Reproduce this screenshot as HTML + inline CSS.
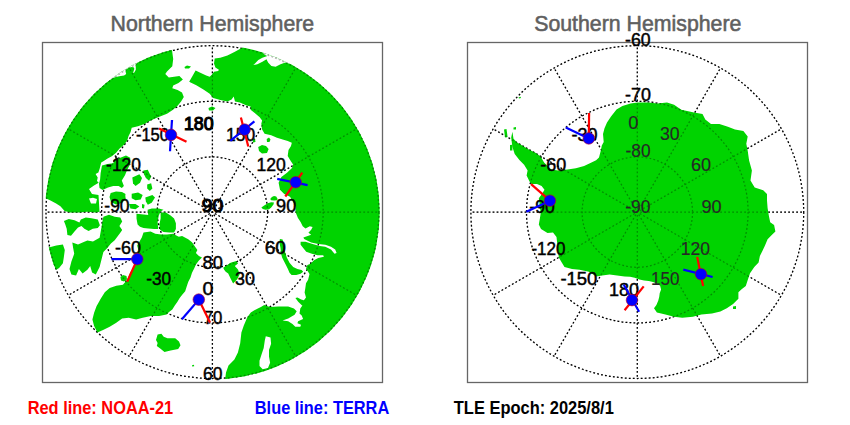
<!DOCTYPE html>
<html><head><meta charset="utf-8"><style>
html,body{margin:0;padding:0;background:#fff;width:850px;height:425px;overflow:hidden}
svg{display:block}
text{font-family:"Liberation Sans",sans-serif}
.g{fill:none;stroke:#000;stroke-width:1.25;stroke-dasharray:1.8 2.2}
line.g{stroke-dashoffset:1.1}
.rl{stroke:#f00;stroke-width:2.2}
.bl{stroke:#00f;stroke-width:2.2}
.dot{fill:#00f;stroke:#c00020;stroke-width:0.6}
.lab text{font-size:17.5px;fill:#000;stroke:#000;stroke-width:0.45}
.lab text.heavy{stroke-width:1.1}
.lab text.thin{fill:#262626;stroke:#262626;stroke-width:0.15}
</style></head><body>
<svg width="850" height="425" viewBox="0 0 850 425">
<defs>
<clipPath id="cn"><circle cx="212.4" cy="212.1" r="167.3"/></clipPath>
<clipPath id="cs"><circle cx="637.3" cy="212.1" r="167.3"/></clipPath>
</defs>
<text x="110.6" y="30.8" font-size="22" fill="#606060" stroke="#606060" stroke-width="0.55" textLength="203.6" lengthAdjust="spacingAndGlyphs">Northern Hemisphere</text>
<text x="534.2" y="30.8" font-size="22" fill="#606060" stroke="#606060" stroke-width="0.55" textLength="207.2" lengthAdjust="spacingAndGlyphs">Southern Hemisphere</text>
<g id="gridunder">
<circle cx="212.4" cy="212.1" r="55.2" class="g"/>
<circle cx="212.4" cy="212.1" r="110.8" class="g"/>
<circle cx="212.4" cy="212.1" r="166.4" class="g"/>
<line x1="212.4" y1="212.1" x2="212.40" y2="378.50" class="g"/>
<line x1="212.4" y1="212.1" x2="295.60" y2="356.21" class="g"/>
<line x1="212.4" y1="212.1" x2="356.51" y2="295.30" class="g"/>
<line x1="212.4" y1="212.1" x2="378.80" y2="212.10" class="g"/>
<line x1="212.4" y1="212.1" x2="356.51" y2="128.90" class="g"/>
<line x1="212.4" y1="212.1" x2="295.60" y2="67.99" class="g"/>
<line x1="212.4" y1="212.1" x2="212.40" y2="45.70" class="g"/>
<line x1="212.4" y1="212.1" x2="129.20" y2="67.99" class="g"/>
<line x1="212.4" y1="212.1" x2="68.29" y2="128.90" class="g"/>
<line x1="212.4" y1="212.1" x2="46.00" y2="212.10" class="g"/>
<line x1="212.4" y1="212.1" x2="68.29" y2="295.30" class="g"/>
<line x1="212.4" y1="212.1" x2="129.20" y2="356.21" class="g"/>
<circle cx="637.3" cy="212.1" r="55.2" class="g"/>
<circle cx="637.3" cy="212.1" r="110.8" class="g"/>
<circle cx="637.3" cy="212.1" r="166.4" class="g"/>
<line x1="637.3" y1="212.1" x2="637.30" y2="45.70" class="g"/>
<line x1="637.3" y1="212.1" x2="720.50" y2="67.99" class="g"/>
<line x1="637.3" y1="212.1" x2="781.41" y2="128.90" class="g"/>
<line x1="637.3" y1="212.1" x2="803.70" y2="212.10" class="g"/>
<line x1="637.3" y1="212.1" x2="781.41" y2="295.30" class="g"/>
<line x1="637.3" y1="212.1" x2="720.50" y2="356.21" class="g"/>
<line x1="637.3" y1="212.1" x2="637.30" y2="378.50" class="g"/>
<line x1="637.3" y1="212.1" x2="554.10" y2="356.21" class="g"/>
<line x1="637.3" y1="212.1" x2="493.19" y2="295.30" class="g"/>
<line x1="637.3" y1="212.1" x2="470.90" y2="212.10" class="g"/>
<line x1="637.3" y1="212.1" x2="493.19" y2="128.90" class="g"/>
<line x1="637.3" y1="212.1" x2="554.10" y2="67.99" class="g"/>
</g>
<g clip-path="url(#cn)" fill="#00d300">
<path d="M172.0,20.0 L172.0,50.0 L173.2,59.1 L172.3,66.2 L167.0,71.5 L165.3,74.1 L168.8,77.6 L174.1,76.7 L179.4,75.9 L182.9,79.4 L178.5,82.9 L173.2,85.6 L172.3,88.2 L177.6,90.0 L182.0,92.6 L183.8,97.0 L181.1,101.4 L177.6,105.8 L172.3,110.3 L167.0,113.8 L160.0,116.4 L153.9,119.1 L148.6,121.5 L144.4,124.1 L138.0,126.3 L131.7,127.8 L130.6,132.0 L128.5,136.3 L127.4,140.0 L124.5,144.2 L119.6,148.5 L116.1,152.7 L111.8,156.2 L107.6,158.4 L103.4,161.2 L101.2,162.6 L99.8,168.2 L98.4,172.5 L95.6,173.9 L97.7,177.4 L97.0,181.0 L98.7,182.8 L94.0,185.6 L89.0,189.0 L92.0,194.0 L98.5,195.0 L99.0,203.0 L99.5,211.8 L95.7,212.5 L87.2,211.8 L78.7,212.5 L70.2,212.5 L64.6,211.1 L60.4,206.2 L56.1,203.4 L50.5,200.5 L46.2,198.4 L20.0,197.0 L20.0,20.0 Z"/>
<path d="M243.0,20.0 L243.0,47.0 L240.8,48.5 L234.4,52.0 L227.4,55.6 L220.3,57.7 L214.7,58.4 L214.0,63.4 L215.4,67.6 L218.9,69.7 L218.2,71.1 L214.0,71.8 L211.8,74.7 L209.7,76.8 L206.2,75.4 L199.8,72.5 L195.6,70.4 L189.2,81.7 L190.6,82.4 L196.3,85.2 L203.4,89.5 L209.7,93.7 L213.2,98.0 L220.3,100.0 L227.4,101.5 L231.6,99.4 L233.7,96.5 L235.0,101.5 L239.9,102.4 L246.5,105.6 L250.6,106.5 L250.6,109.8 L254.7,113.0 L259.7,117.2 L262.1,120.5 L261.3,123.8 L262.1,129.5 L264.6,133.7 L271.2,135.3 L277.0,137.8 L282.7,139.4 L287.7,141.1 L291.8,142.7 L291.0,146.0 L288.5,150.1 L287.7,155.9 L290.1,160.0 L293.2,164.8 L292.0,168.0 L287.0,172.8 L281.4,177.0 L278.6,182.7 L280.0,189.8 L284.2,194.0 L290.0,196.8 L292.7,201.0 L295.5,206.7 L295.5,212.0 L297.8,217.8 L300.6,222.0 L302.7,226.3 L305.5,228.4 L309.8,226.3 L312.6,227.0 L311.2,229.8 L308.4,232.7 L311.2,234.8 L307.0,236.2 L303.4,237.6 L304.1,239.0 L311.2,242.5 L318.2,244.0 L325.3,244.7 L331.0,246.8 L335.2,249.6 L336.6,253.1 L334.5,253.8 L331.0,249.6 L325.3,246.8 L319.7,246.0 L312.6,244.0 L305.5,241.8 L300.6,241.8 L300.6,244.7 L303.4,248.2 L306.2,251.7 L311.9,253.8 L317.5,255.3 L323.2,255.3 L323.9,256.7 L318.2,258.1 L314.0,260.2 L310.5,263.7 L307.4,264.9 L306.0,268.5 L309.5,274.1 L308.1,279.8 L306.0,283.3 L305.3,288.2 L304.6,292.5 L306.0,297.4 L303.9,300.3 L301.1,299.5 L297.5,297.4 L295.4,298.1 L298.2,301.7 L301.8,305.2 L302.4,305.6 L300.3,308.5 L299.5,313.4 L301.7,315.5 L303.1,319.1 L298.1,321.2 L297.4,323.3 L301.0,324.7 L300.3,326.8 L295.3,326.8 L292.5,324.0 L288.2,321.2 L282.6,320.5 L288.2,318.4 L294.6,314.8 L296.7,311.3 L293.9,308.5 L288.2,306.4 L278.4,306.4 L269.9,307.1 L264.2,305.0 L261.4,306.7 L254.4,310.2 L250.8,312.6 L247.3,317.3 L243.8,325.5 L241.4,332.6 L240.2,343.2 L237.9,352.6 L234.4,359.6 L228.5,365.5 L226.0,372.6 L220.0,420.0 L420.0,420.0 L420.0,20.0 Z"/>
<path d="M141.8,237.4 L143.5,232.6 L150.6,231.5 L155.3,233.8 L161.2,234.4 L167.0,234.4 L172.9,233.8 L178.8,236.8 L182.1,236.1 L188.2,239.2 L192.0,242.2 L195.1,246.8 L197.4,249.9 L195.9,252.9 L198.9,256.0 L202.0,257.5 L198.9,260.6 L195.9,264.4 L194.3,268.2 L192.0,272.8 L190.5,277.4 L188.2,282.0 L186.7,286.6 L185.2,291.2 L182.2,294.7 L179.7,298.0 L177.3,302.1 L174.8,305.4 L172.3,309.5 L169.0,312.0 L166.5,314.5 L159.1,316.1 L150.9,316.1 L142.7,317.8 L136.1,319.4 L128.7,317.8 L122.1,318.6 L116.3,322.7 L109.7,326.8 L103.1,330.1 L97.4,332.6 L94.1,326.0 L92.4,319.4 L94.1,312.8 L96.5,306.2 L100.7,298.8 L104.8,292.2 L109.7,288.1 L116.3,285.7 L122.9,284.8 L127.0,279.9 L130.0,273.0 L133.0,268.0 L136.6,260.2 L138.6,251.0 L137.2,245.4 Z"/>
<path d="M136.5,213.8 L143.5,214.4 L148.2,215.0 L147.6,209.7 L151.8,208.5 L158.8,208.5 L163.5,209.7 L160.6,211.5 L158.8,215.6 L157.6,222.0 L158.2,229.1 L154.1,229.1 L148.2,228.5 L143.5,227.9 L140.0,226.8 L137.6,224.4 L136.5,218.5 Z"/>
<path d="M160.6,212.6 L165.9,212.6 L170.6,215.6 L174.1,218.5 L175.9,223.2 L175.9,229.1 L174.1,232.6 L169.4,232.6 L163.5,232.1 L160.0,229.7 L159.4,224.4 L160.6,218.5 Z"/>
<path d="M102.0,165.4 L107.6,164.0 L113.2,163.3 L114.7,159.8 L120.3,157.7 L126.0,155.5 L130.2,157.7 L130.2,164.0 L127.1,170.0 L125.0,175.3 L121.8,180.6 L123.9,185.9 L121.8,188.0 L118.6,185.9 L113.3,185.9 L108.0,187.5 L102.7,190.1 L99.5,188.0 L99.0,183.8 L100.1,179.5 L100.6,173.2 Z"/>
<path d="M157.6,334.5 L161.4,333.8 L163.7,336.8 L167.5,338.3 L175.2,338.3 L179.0,341.4 L180.5,345.2 L178.2,349.0 L170.6,350.6 L164.5,352.1 L159.9,348.3 L156.8,346.0 L157.6,342.9 L156.0,339.9 Z"/>
<path d="M223.2,267.7 L230.6,262.8 L236.4,261.1 L238.0,263.6 L234.8,266.1 L238.0,269.4 L239.7,274.3 L237.2,279.3 L233.1,283.4 L230.6,278.4 L228.2,273.5 L225.7,271.8 L224.0,269.4 Z"/>
<path d="M279.9,238.9 L282.6,239.4 L283.6,243.6 L284.7,251.0 L286.8,257.4 L289.5,262.7 L293.2,266.9 L297.4,269.0 L301.6,270.1 L303.2,271.7 L300.6,273.8 L296.3,274.9 L291.6,274.9 L289.5,272.7 L287.9,269.0 L285.8,264.8 L283.6,260.6 L282.1,257.4 L281.0,253.2 L280.5,247.9 L279.4,242.6 Z"/>
<path d="M208.5,108.0 L212.0,106.5 L215.5,108.0 L213.0,110.5 L209.0,110.5 Z"/>
<path d="M184.5,67.0 L187.0,65.5 L191.0,66.5 L189.0,68.5 L185.0,68.5 Z"/>
<path d="M252.5,139.5 L255.0,139.0 L255.5,142.0 L253.0,142.5 Z"/>
<path d="M258.2,147.0 L262.0,144.9 L266.0,146.0 L268.6,149.0 L267.0,153.0 L262.0,153.4 L259.0,151.0 Z"/>
<path d="M266.7,139.0 L269.0,137.4 L270.5,139.5 L269.5,142.0 L267.0,142.0 Z"/>
<path d="M72.3,242.5 L78.0,244.4 L82.6,242.5 L87.4,240.6 L93.0,241.6 L99.6,237.8 L101.5,227.1 L102.4,221.4 L103.4,216.7 L109.0,214.8 L114.7,216.7 L120.3,217.6 L122.2,221.4 L119.4,226.1 L122.2,229.9 L120.3,232.7 L117.5,236.5 L114.7,240.2 L110.9,243.5 L107.1,248.2 L103.4,252.0 L101.5,259.5 L99.6,267.0 L95.8,274.5 L92.1,272.6 L90.2,266.1 L87.4,269.8 L82.6,273.6 L78.9,268.9 L76.1,275.5 L71.4,274.5 L69.5,268.9 L71.4,261.4 L74.2,253.8 L73.2,248.2 Z"/>
<path d="M63.9,221.0 L68.8,218.9 L74.5,220.3 L79.4,222.4 L80.8,219.6 L85.8,217.5 L91.4,218.2 L97.8,219.6 L99.9,225.3 L97.8,228.1 L92.8,228.8 L88.6,230.9 L84.4,228.8 L81.5,226.0 L78.0,227.4 L74.5,231.6 L71.0,235.8 L67.4,235.1 L66.7,228.8 L65.3,224.5 Z"/>
<path d="M40.0,240.0 L49.7,247.2 L56.3,245.4 L62.9,244.4 L64.8,250.0 L63.8,257.6 L62.9,263.2 L59.1,268.0 L56.3,269.8 L53.5,265.1 L45.0,262.0 Z"/>
<path d="M110.7,193.0 L116.0,191.5 L122.0,192.0 L125.5,194.0 L125.0,199.0 L122.0,203.0 L116.0,204.5 L111.0,202.0 L109.5,197.0 Z"/>
<path d="M0.0,0.0 L0.0,0.0 L0.0,0.0 Z"/>
<path d="M0.0,0.0 L0.0,0.0 L0.0,0.0 Z"/>
<path d="M0.0,0.0 L0.0,0.0 L0.0,0.0 Z"/>
<path d="M0.0,0.0 L0.0,0.0 L0.0,0.0 Z"/>
<path d="M0.0,0.0 L0.0,0.0 L0.0,0.0 Z"/>
<path d="M0.0,0.0 L0.0,0.0 L0.0,0.0 Z"/>
<path d="M261.4,207.6 L264.2,205.5 L267.7,203.3 L271.2,202.3 L274.0,202.6 L273.3,204.8 L271.2,207.6 L269.1,209.3 L265.6,209.7 L262.8,209.0 Z"/>
<path d="M270.2,199.1 L271.9,197.0 L274.0,195.9 L276.2,196.6 L277.6,199.1 L277.2,200.2 L274.0,200.5 L271.2,200.2 Z"/>
<path d="M192.0,365.2 L194.0,364.8 L194.2,366.2 L192.2,366.5 Z"/>
<path d="M120.4,277.0 L123.0,275.0 L126.5,276.0 L127.0,279.5 L124.0,281.5 L121.0,280.5 Z"/>
<path d="M132.3,177.5 L139.4,174.2 L142.0,178.1 L140.1,182.7 L135.5,185.9 L133.0,183.3 Z"/>
<path d="M143.3,170.4 L147.8,169.7 L151.1,176.8 L149.1,180.7 L145.9,178.1 L144.0,174.2 Z"/>
<path d="M147.2,184.6 L151.1,183.3 L152.4,188.5 L149.8,191.1 L147.2,188.5 Z"/>
<path d="M131.7,193.7 L138.1,192.4 L142.7,195.0 L140.7,199.5 L135.5,200.2 L131.7,198.2 Z"/>
<path d="M145.3,197.6 L152.4,195.0 L155.0,197.6 L151.7,202.7 L147.8,204.7 L145.9,201.5 Z"/>
<path d="M129.1,204.0 L135.5,204.0 L139.4,206.6 L135.5,209.2 L130.4,208.6 Z"/>
<path d="M142.0,204.0 L144.6,204.7 L144.0,208.6 L142.0,207.9 Z"/>
<path d="M119.0,192.4 L124.5,193.7 L125.8,198.9 L122.6,201.5 L119.0,200.0 Z"/>
<g fill="#fff"><path d="M265.8,336.3 L270.5,337.4 L271.1,343.7 L269.0,350.1 L269.0,356.4 L270.1,362.8 L268.0,368.1 L262.7,369.2 L259.5,366.0 L259.5,360.7 L261.6,354.3 L263.7,348.0 L264.8,340.6 Z"/>
<path d="M105.0,70.0 L111.4,79.0 L114.2,77.6 L119.2,76.2 L124.1,75.5 L126.2,74.0 L125.5,71.2 L126.6,69.1 L129.0,67.7 L131.9,67.0 L134.0,67.4 L134.3,69.1 L133.3,71.9 L132.6,73.0 L134.3,72.6 L135.8,69.8 L135.8,67.0 L135.4,64.9 L136.8,63.8 L137.0,55.0 L105.0,55.0 Z"/>
<path d="M89.0,198.5 L93.0,197.7 L97.0,199.0 L96.0,203.4 L91.0,203.5 Z"/>
<path d="M262.0,50.0 L264.0,54.4 L267.3,56.0 L262.4,57.7 L258.3,60.1 L255.0,63.4 L253.3,65.1 L257.4,64.2 L262.4,61.8 L266.5,59.3 L268.1,62.6 L271.4,65.9 L275.6,66.7 L280.5,64.2 L285.4,62.6 L288.7,63.4 L293.0,58.0 L275.0,45.0 Z"/></g>
</g>
<g clip-path="url(#cs)" fill="#00d300">
<path d="M512.4,131.8 L513.5,138.8 L517.1,142.4 L522.9,145.9 L528.8,149.4 L535.9,152.9 L540.6,156.5 L544.1,162.4 L551.2,169.4 L558.2,170.6 L567.6,169.4 L575.9,168.2 L584.1,165.9 L589.4,163.5 L596.1,160.2 L599.0,157.4 L599.9,154.1 L600.9,150.3 L601.8,145.6 L603.7,141.9 L603.0,134.1 L604.5,128.2 L607.0,122.4 L611.0,116.5 L616.5,109.4 L622.4,105.9 L630.6,103.5 L637.6,102.4 L648.2,102.4 L657.6,103.5 L667.0,102.4 L674.1,104.7 L681.3,109.8 L694.0,112.6 L702.5,114.0 L705.3,119.6 L711.0,123.9 L719.4,123.9 L727.9,126.7 L735.0,129.5 L743.4,131.0 L747.7,136.6 L746.3,143.7 L747.7,150.7 L749.1,160.6 L751.9,170.5 L750.5,180.4 L754.7,187.5 L763.2,190.3 L767.0,194.0 L767.0,200.4 L767.6,208.1 L768.9,215.9 L770.2,222.3 L774.1,224.9 L775.4,231.4 L771.5,235.3 L767.6,239.2 L765.0,245.6 L762.5,250.8 L759.9,256.0 L758.6,262.5 L754.3,266.9 L750.0,273.3 L747.9,279.6 L745.8,286.0 L741.6,289.2 L738.4,292.3 L738.4,298.7 L733.1,304.0 L726.8,308.2 L720.4,311.4 L712.0,313.5 L701.4,314.6 L692.9,316.7 L682.3,317.7 L673.9,316.7 L665.4,314.6 L656.9,312.4 L654.0,308.2 L656.4,305.0 L658.2,300.8 L659.2,297.0 L659.7,293.2 L661.1,289.5 L660.1,285.7 L657.3,283.8 L653.0,282.0 L648.8,281.0 L644.1,280.5 L639.4,279.6 L634.7,277.7 L630.0,276.8 L624.6,276.4 L617.1,275.5 L609.6,274.5 L602.1,275.5 L596.4,276.4 L588.9,271.7 L579.5,269.8 L572.0,268.9 L564.5,267.0 L561.6,262.3 L558.8,257.6 L557.9,250.1 L556.5,237.0 L553.0,232.5 L547.5,233.0 L541.0,229.0 L538.8,224.6 L539.8,219.0 L540.7,213.3 L539.8,205.8 L538.8,198.2 L541.6,194.5 L544.5,189.8 L541.6,186.0 L537.0,184.1 L531.3,184.1 L529.4,181.3 L526.6,175.6 L527.6,170.6 L524.1,164.7 L519.4,160.0 L514.7,154.1 L512.4,147.0 L511.2,137.6 Z"/>
<path d="M504.0,129.5 L506.5,129.0 L507.6,137.0 L505.0,137.6 Z"/>
<path d="M513.5,127.5 L516.0,127.0 L516.0,129.4 L513.5,129.4 Z"/>
<path d="M510.0,145.0 L512.4,144.7 L512.4,150.6 L510.0,150.6 Z"/>
<path d="M733.0,306.5 L736.0,306.0 L736.0,309.0 L733.0,309.0 Z"/>
<path d="M518.5,97.5 L520.5,96.8 L521.0,98.0 L519.0,98.6 Z"/>
<g fill="#fff"></g>
</g>
<rect x="42.5" y="42.5" width="340" height="340" fill="none" stroke="#666" stroke-width="1.3"/>
<rect x="467.5" y="42.5" width="340" height="340" fill="none" stroke="#666" stroke-width="1.3"/>
<g opacity="0.32">
<circle cx="212.4" cy="212.1" r="55.2" class="g"/>
<circle cx="212.4" cy="212.1" r="110.8" class="g"/>
<circle cx="212.4" cy="212.1" r="166.4" class="g"/>
<line x1="212.4" y1="212.1" x2="212.40" y2="378.50" class="g"/>
<line x1="212.4" y1="212.1" x2="295.60" y2="356.21" class="g"/>
<line x1="212.4" y1="212.1" x2="356.51" y2="295.30" class="g"/>
<line x1="212.4" y1="212.1" x2="378.80" y2="212.10" class="g"/>
<line x1="212.4" y1="212.1" x2="356.51" y2="128.90" class="g"/>
<line x1="212.4" y1="212.1" x2="295.60" y2="67.99" class="g"/>
<line x1="212.4" y1="212.1" x2="212.40" y2="45.70" class="g"/>
<line x1="212.4" y1="212.1" x2="129.20" y2="67.99" class="g"/>
<line x1="212.4" y1="212.1" x2="68.29" y2="128.90" class="g"/>
<line x1="212.4" y1="212.1" x2="46.00" y2="212.10" class="g"/>
<line x1="212.4" y1="212.1" x2="68.29" y2="295.30" class="g"/>
<line x1="212.4" y1="212.1" x2="129.20" y2="356.21" class="g"/>
<circle cx="637.3" cy="212.1" r="55.2" class="g"/>
<circle cx="637.3" cy="212.1" r="110.8" class="g"/>
<circle cx="637.3" cy="212.1" r="166.4" class="g"/>
<line x1="637.3" y1="212.1" x2="637.30" y2="45.70" class="g"/>
<line x1="637.3" y1="212.1" x2="720.50" y2="67.99" class="g"/>
<line x1="637.3" y1="212.1" x2="781.41" y2="128.90" class="g"/>
<line x1="637.3" y1="212.1" x2="803.70" y2="212.10" class="g"/>
<line x1="637.3" y1="212.1" x2="781.41" y2="295.30" class="g"/>
<line x1="637.3" y1="212.1" x2="720.50" y2="356.21" class="g"/>
<line x1="637.3" y1="212.1" x2="637.30" y2="378.50" class="g"/>
<line x1="637.3" y1="212.1" x2="554.10" y2="356.21" class="g"/>
<line x1="637.3" y1="212.1" x2="493.19" y2="295.30" class="g"/>
<line x1="637.3" y1="212.1" x2="470.90" y2="212.10" class="g"/>
<line x1="637.3" y1="212.1" x2="493.19" y2="128.90" class="g"/>
<line x1="637.3" y1="212.1" x2="554.10" y2="67.99" class="g"/>
</g>
<g class="lab">
<text class="heavy" x="184.0" y="129.7" textLength="29.6" lengthAdjust="spacingAndGlyphs">180</text>
<text x="135.9" y="140.6" textLength="33.1" lengthAdjust="spacingAndGlyphs">-150</text>
<text x="226.0" y="140.6" textLength="29.1" lengthAdjust="spacingAndGlyphs">150</text>
<text x="106.1" y="170.6" textLength="34.9" lengthAdjust="spacingAndGlyphs">-120</text>
<text x="256.4" y="170.6" textLength="29.3" lengthAdjust="spacingAndGlyphs">120</text>
<text x="104.3" y="212.2" textLength="25.3" lengthAdjust="spacingAndGlyphs">-90</text>
<text class="heavy" x="201.8" y="211.8" textLength="21.5" lengthAdjust="spacingAndGlyphs">90</text>
<text x="276.1" y="211.8" textLength="20.2" lengthAdjust="spacingAndGlyphs">90</text>
<text x="115.0" y="254.3" textLength="26.0" lengthAdjust="spacingAndGlyphs">-60</text>
<text x="264.7" y="254.4" textLength="21.3" lengthAdjust="spacingAndGlyphs">60</text>
<text x="146.2" y="284.9" textLength="24.9" lengthAdjust="spacingAndGlyphs">-30</text>
<text x="235.0" y="284.9" textLength="19.9" lengthAdjust="spacingAndGlyphs">30</text>
<text x="202.6" y="268.5" textLength="20.3" lengthAdjust="spacingAndGlyphs">80</text>
<text x="202.4" y="294.8" textLength="10.9" lengthAdjust="spacingAndGlyphs">0</text>
<text x="203.8" y="323.9" textLength="18.6" lengthAdjust="spacingAndGlyphs">70</text>
<text x="203.0" y="379.5" textLength="19.4" lengthAdjust="spacingAndGlyphs">60</text>
<text x="625.1" y="45.5" textLength="25.5" lengthAdjust="spacingAndGlyphs">-60</text>
<text x="625.1" y="101.4" textLength="25.9" lengthAdjust="spacingAndGlyphs">-70</text>
<text class="thin" x="628.3" y="129.4" textLength="10.2" lengthAdjust="spacingAndGlyphs">0</text>
<text x="571.4" y="140.7" textLength="26.0" lengthAdjust="spacingAndGlyphs">-30</text>
<text class="thin" x="660.0" y="140.0" textLength="19.7" lengthAdjust="spacingAndGlyphs">30</text>
<text class="thin" x="625.5" y="156.5" textLength="25.0" lengthAdjust="spacingAndGlyphs">-80</text>
<text x="540.3" y="170.6" textLength="26.0" lengthAdjust="spacingAndGlyphs">-60</text>
<text class="thin" x="690.9" y="170.6" textLength="20.1" lengthAdjust="spacingAndGlyphs">60</text>
<text x="529.3" y="212.8" textLength="25.4" lengthAdjust="spacingAndGlyphs">-90</text>
<text class="thin" x="625.2" y="212.6" textLength="25.3" lengthAdjust="spacingAndGlyphs">-90</text>
<text class="thin" x="701.5" y="212.8" textLength="20.2" lengthAdjust="spacingAndGlyphs">90</text>
<text x="531.4" y="254.7" textLength="34.1" lengthAdjust="spacingAndGlyphs">-120</text>
<text class="thin" x="680.8" y="254.7" textLength="29.2" lengthAdjust="spacingAndGlyphs">120</text>
<text x="560.4" y="284.5" textLength="37.0" lengthAdjust="spacingAndGlyphs">-150</text>
<text class="thin" x="651.0" y="284.5" textLength="28.5" lengthAdjust="spacingAndGlyphs">150</text>
<text x="608.9" y="295.6" textLength="30.0" lengthAdjust="spacingAndGlyphs">180</text>
</g>
<line x1="159" y1="128.5" x2="186.5" y2="141.7" class="rl"/>
<line x1="172" y1="120" x2="170" y2="151.3" class="bl"/>
<circle cx="171" cy="134.9" r="5.8" class="dot"/>
<line x1="240.9" y1="117.4" x2="248.3" y2="146.5" class="rl"/>
<line x1="230.3" y1="140.9" x2="254.4" y2="121.4" class="bl"/>
<circle cx="244.6" cy="129.6" r="5.8" class="dot"/>
<line x1="302.3" y1="172.7" x2="285.3" y2="196.5" class="rl"/>
<line x1="277.2" y1="178.8" x2="307.6" y2="185.1" class="bl"/>
<circle cx="295.7" cy="182.2" r="5.8" class="dot"/>
<line x1="137.3" y1="259.1" x2="127.2" y2="281.8" class="rl"/>
<line x1="111.4" y1="259.1" x2="137.3" y2="259.1" class="bl"/>
<circle cx="137.3" cy="259.1" r="5.8" class="dot"/>
<line x1="198.8" y1="299.6" x2="210" y2="322.4" class="rl"/>
<line x1="198.8" y1="299.6" x2="181.9" y2="319.2" class="bl"/>
<circle cx="198.8" cy="299.6" r="5.8" class="dot"/>
<line x1="588.8" y1="138.4" x2="589.1" y2="112.9" class="rl"/>
<line x1="588.8" y1="138.4" x2="565.8" y2="127.5" class="bl"/>
<circle cx="588.8" cy="138.4" r="5.8" class="dot"/>
<line x1="549.9" y1="200.7" x2="531.1" y2="184.2" class="rl"/>
<line x1="549.9" y1="200.7" x2="526.4" y2="211.8" class="bl"/>
<circle cx="549.9" cy="200.7" r="5.8" class="dot"/>
<line x1="697.2" y1="256.9" x2="703.1" y2="286" class="rl"/>
<line x1="683.3" y1="269.6" x2="712.6" y2="277" class="bl"/>
<circle cx="701" cy="274.2" r="5.8" class="dot"/>
<line x1="624.6" y1="310.2" x2="643.7" y2="286.4" class="rl"/>
<line x1="623.8" y1="284.8" x2="639.1" y2="311.8" class="bl"/>
<circle cx="632" cy="300.1" r="5.8" class="dot"/>
<text x="27.7" y="413.7" font-size="18" font-weight="bold" fill="#f00" textLength="145.5" lengthAdjust="spacingAndGlyphs">Red line: NOAA-21</text>
<text x="254.8" y="413.7" font-size="18" font-weight="bold" fill="#00f" textLength="134.4" lengthAdjust="spacingAndGlyphs">Blue line: TERRA</text>
<text x="453.8" y="413.7" font-size="18" font-weight="bold" fill="#000" textLength="160" lengthAdjust="spacingAndGlyphs">TLE Epoch: 2025/8/1</text>
</svg>
</body></html>
